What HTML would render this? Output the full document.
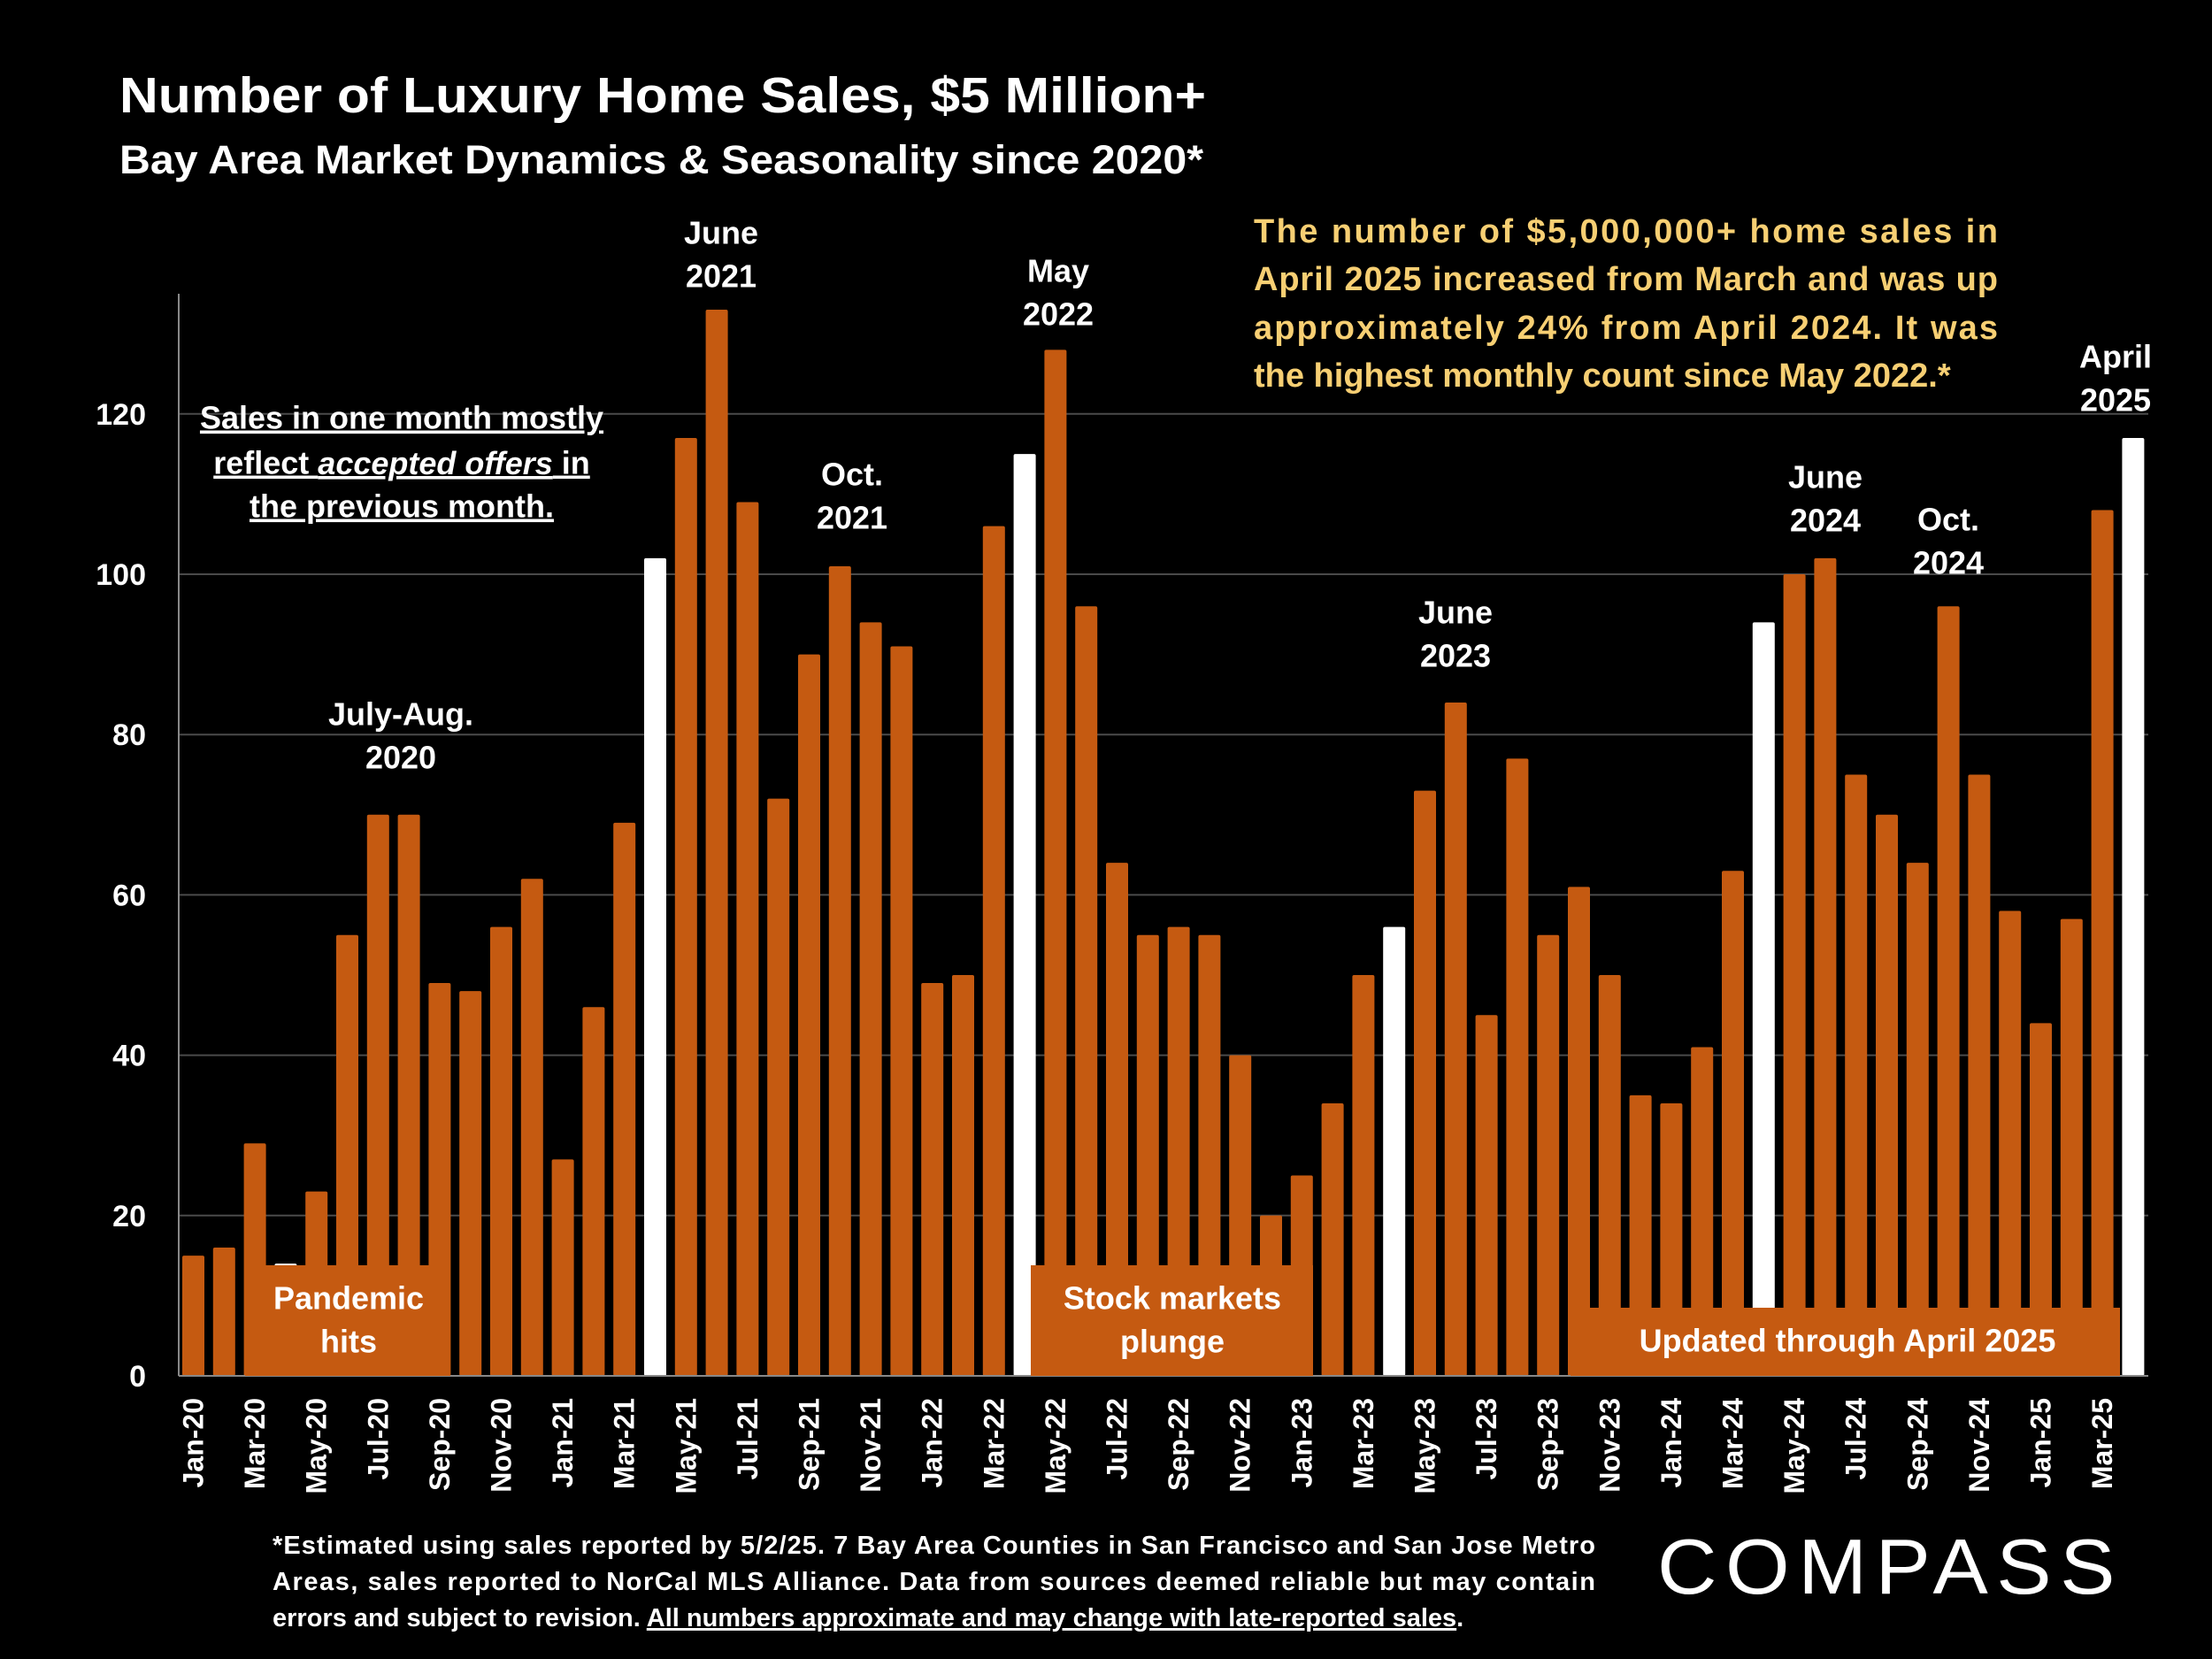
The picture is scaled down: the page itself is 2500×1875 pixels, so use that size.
<!DOCTYPE html>
<html><head><meta charset="utf-8"><style>
html,body{margin:0;padding:0;background:#000;}
svg{display:block;font-family:"Liberation Sans",sans-serif;}
</style></head><body>
<svg id="chart" width="2500" height="1875" viewBox="0 0 2500 1875" xmlns="http://www.w3.org/2000/svg">
<rect width="2500" height="1875" fill="#000"/>
<text x="135" y="127" fill="#fff" font-size="57" font-weight="bold" textLength="1228" lengthAdjust="spacingAndGlyphs">Number of Luxury Home Sales, $5 Million+</text>
<text x="135" y="196" fill="#fff" font-size="45" font-weight="bold" textLength="1225" lengthAdjust="spacingAndGlyphs">Bay Area Market Dynamics &amp; Seasonality since 2020*</text>
<g id="grid"></g>
<g id="bars"></g>
<g id="boxes"></g>
<g id="labels"></g>
<g id="notes" fill="#fff" font-weight="bold" font-size="36" text-anchor="middle" dominant-baseline="middle"></g>
<text fill="#f7cf73" font-size="38" font-weight="bold">
<tspan x="1417" y="274" textLength="841" lengthAdjust="spacing">The number of $5,000,000+ home sales in</tspan>
<tspan x="1417" y="328" textLength="841" lengthAdjust="spacing">April 2025 increased from March and was up</tspan>
<tspan x="1417" y="383" textLength="841" lengthAdjust="spacing">approximately 24% from April 2024. It was</tspan>
<tspan x="1417" y="437">the highest monthly count since May 2022.*</tspan>
</text>
<text fill="#fff" font-size="29" font-weight="bold">
<tspan x="308" y="1756" textLength="1495" lengthAdjust="spacing">*Estimated using sales reported by 5/2/25. 7 Bay Area Counties in San Francisco and San Jose Metro</tspan>
<tspan x="308" y="1797" textLength="1495" lengthAdjust="spacing">Areas, sales reported to NorCal MLS Alliance.  Data from sources deemed reliable but may contain</tspan>
<tspan x="308" y="1838">errors and subject to revision. <tspan text-decoration="underline">All numbers approximate and may change with late-reported sales</tspan>.</tspan>
</text>
<text x="1873" y="1801" fill="#fff" font-size="88" letter-spacing="9" textLength="527" lengthAdjust="spacingAndGlyphs">COMPASS</text>
</svg>
<script>
const months = ["Jan-20","Feb-20","Mar-20","Apr-20","May-20","Jun-20","Jul-20","Aug-20","Sep-20","Oct-20","Nov-20","Dec-20",
"Jan-21","Feb-21","Mar-21","Apr-21","May-21","Jun-21","Jul-21","Aug-21","Sep-21","Oct-21","Nov-21","Dec-21",
"Jan-22","Feb-22","Mar-22","Apr-22","May-22","Jun-22","Jul-22","Aug-22","Sep-22","Oct-22","Nov-22","Dec-22",
"Jan-23","Feb-23","Mar-23","Apr-23","May-23","Jun-23","Jul-23","Aug-23","Sep-23","Oct-23","Nov-23","Dec-23",
"Jan-24","Feb-24","Mar-24","Apr-24","May-24","Jun-24","Jul-24","Aug-24","Sep-24","Oct-24","Nov-24","Dec-24",
"Jan-25","Feb-25","Mar-25","Apr-25"];
const sales = [15,16,29,14,23,55,70,70,49,48,56,62,
27,46,69,102,117,133,109,72,90,101,94,91,
49,50,106,115,128,96,64,55,56,55,40,20,
25,34,50,56,73,84,45,77,55,61,50,35,
34,41,63,94,100,102,75,70,64,96,75,58,
44,57,108,117];
const yTicks = [0,20,40,60,80,100,120];
const NS="http://www.w3.org/2000/svg";
const x0=202, x1=2428, y0=1555, pxPer=181.2/20, pitch=34.8, firstC=218.5, bw=25;
const xC=i=>firstC+i*pitch;
const yV=v=>y0-v*pxPer;
function mk(tag,attrs,parent){const e=document.createElementNS(NS,tag);for(const k in attrs)e.setAttribute(k,attrs[k]);parent.appendChild(e);return e;}
const grid=document.getElementById('grid');
yTicks.forEach(t=>{
  if(t>0){const l=mk('line',{x1:x0,x2:x1,y1:yV(t),y2:yV(t),stroke:'#4a4a4a','stroke-width':2},grid);
  
  }
  const tx=mk('text',{x:165,y:yV(t)+12,fill:'#fff','font-size':34,'font-weight':'bold','text-anchor':'end'},grid);
  
  
  tx.textContent=t;
});
const ax=mk('line',{x1:x0,x2:x0,y1:332,y2:y0,stroke:'#888','stroke-width':2},grid);


const bars=document.getElementById('bars');
sales.forEach((v,i)=>{
  const white=months[i].startsWith('Apr');
  const r=mk('rect',{x:xC(i)-bw/2,y:yV(v),width:bw,height:v*pxPer,fill:white?'#fff':'#c55a11',rx:2},bars);
  
  
});
const bx=mk('line',{x1:x0,x2:x1,y1:y0,y2:y0,stroke:'#888','stroke-width':2},bars);


const boxes=document.getElementById('boxes');
[["pandemic-box",277,509,1430,["Pandemic","hits"],394],["stock-box",1165,1484,1430,["Stock markets","plunge"],1325],["updated-box",1775,2396,1478,["Updated through April 2025"],2088]].forEach(b=>{
  const r=mk('rect',{x:b[1],y:b[3],width:b[2]-b[1],height:y0-b[3],fill:'#c55a11'},boxes);
  
  
  b[4].forEach((s,j)=>{
    const yy=b[4].length===1?1518:1470+j*49;
    const t=mk('text',{x:b[5],y:yy,fill:'#fff','font-size':36,'font-weight':'bold','text-anchor':'middle','dominant-baseline':'middle'},boxes);
    
    
    t.textContent=s;
  });
});
const labels=document.getElementById('labels');
months.forEach((m,i)=>{
  if(i%2)return;
  const x=xC(i)+11, y=1580;
  const t=mk('text',{x:x,y:y,fill:'#fff','font-size':32,'font-weight':'bold','text-anchor':'end',transform:`rotate(-90 ${x} ${y})`},labels);
  
  
  t.textContent=m;
});
const notes=document.getElementById('notes');
[[815,266,["June","2021"]],[1196,309,["May","2022"]],[963,539,["Oct.","2021"]],[453,810,["July-Aug.","2020"]],[1645,695,["June","2023"]],[2063,542,["June","2024"]],[2202,590,["Oct.","2024"]],[2391,406,["April","2025"]]].forEach(n=>{
  n[2].forEach((s,j)=>{
    const t=mk('text',{x:n[0],y:n[1]+j*49},notes);
    
    
    t.textContent=s;
  });
});
[["Sales in one month mostly",475],["reflect <tspan font-style='italic'>accepted offers</tspan> in",526],["the previous month.",575]].forEach(l=>{
  const t=mk('text',{x:454,y:l[1],'text-decoration':'underline'},notes);
  
  
  t.innerHTML=l[0];
});
</script>
</body></html>
